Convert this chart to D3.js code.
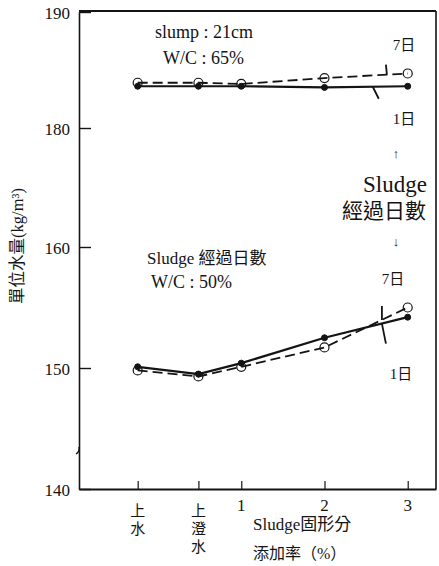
<!DOCTYPE html>
<html>
<head>
<meta charset="utf-8">
<script src="https://cdn.jsdelivr.net/npm/d3@7"></script>
<style>
  html, body { margin: 0; padding: 0; background: #fff; }
  svg { display: block; }
  text { fill: #141414; font-family: "Liberation Serif", "Noto Sans CJK TC", serif; }
</style>
</head>
<body>
<svg id="chart" width="439" height="566"></svg>
<script>
// Sludge solids addition rate (x) vs unit water content (kg/m3)
const categories = ["上水", "上澄水", "1", "2", "3"];
const xValues = [-0.245, 0.485, 1, 2, 3];          // position of each category on the rate axis

// W/C 65%, slump 21cm
const highDay7 = [183.9, 183.9, 183.8, 184.3, 184.7];
const highDay1 = [183.6, 183.6, 183.6, 183.5, 183.6];
// W/C 50%
const lowDay7 = [149.8, 149.3, 150.1, 151.7, 155.0];
const lowDay1 = [150.1, 149.5, 150.4, 152.5, 154.2];

const yTickLabels = [140, 150, 160, 180, 190];

const svg = d3.select("#chart");
const ink = "#141414";

const x = d3.scaleLinear().domain([-0.95, 3.34]).range([79, 436]);
// broken value axis: the spacing changes above 160
const y = d3.scaleLinear().domain([140, 150, 160, 180, 190]).range([489, 368, 247, 128, 12]);

// frame
svg.append("line").attr("x1", 79).attr("x2", 436).attr("y1", 11).attr("y2", 11)
  .attr("stroke", ink).attr("stroke-width", 2);
svg.append("line").attr("x1", 436).attr("x2", 436).attr("y1", 11).attr("y2", 489)
  .attr("stroke", ink).attr("stroke-width", 1.6);

// left axis
const yAxis = d3.axisLeft(y).tickValues(yTickLabels).tickSizeInner(-12).tickSizeOuter(0).tickPadding(9);
const gy = svg.append("g").attr("transform", "translate(79,0)").call(yAxis);
gy.select(".domain").attr("stroke", ink).attr("stroke-width", 1.6);
gy.selectAll(".tick line").attr("stroke", ink).attr("stroke-width", 1.4);
gy.selectAll(".tick text").attr("font-size", 17).attr("fill", ink)
  .attr("font-family", "Liberation Serif").attr("dy", "0.4em");

// small break mark on the value axis
svg.append("path")
  .attr("d", `M76,${y(142.9)} q4,-2 3,-7`)
  .attr("fill", "none").attr("stroke", ink).attr("stroke-width", 1.5);

// bottom axis
const xAxis = d3.axisBottom(x).tickValues(xValues).tickSizeInner(-8).tickSizeOuter(0).tickFormat("");
const gx = svg.append("g").attr("transform", "translate(0,489)").call(xAxis);
gx.select(".domain").attr("stroke", ink).attr("stroke-width", 2.2);
gx.selectAll(".tick line").attr("stroke", ink).attr("stroke-width", 1.2);

// category labels: words stacked one character per line
categories.forEach((c, i) => {
  const isNum = /^[0-9]+$/.test(c);
  const t = svg.append("text")
    .attr("x", x(xValues[i]))
    .attr("y", isNum ? 511 : 516)
    .attr("text-anchor", "middle")
    .attr("font-size", isNum ? 17 : 15);
  if (isNum) {
    t.text(c).attr("font-family", "Liberation Serif");
  } else {
    Array.from(c).forEach((ch, k) => {
      t.append("tspan").attr("x", x(xValues[i])).attr("dy", k === 0 ? 0 : 18).text(ch);
    });
  }
});

svg.append("text").attr("x", 253).attr("y", 530).attr("font-size", 17).text("Sludge固形分");
svg.append("text").attr("x", 253).attr("y", 559).attr("font-size", 16).text("添加率（%）");

// value axis title
svg.append("text")
  .attr("transform", "translate(23,246) rotate(-90)")
  .attr("text-anchor", "middle")
  .attr("font-size", 16.5)
  .text("單位水量(kg/m³)");

// series
const line = d3.line().x((d, i) => x(xValues[i])).y(d => y(d));

function drawSeries(values, dashed) {
  svg.append("path")
    .datum(values)
    .attr("d", line)
    .attr("fill", "none")
    .attr("stroke", ink)
    .attr("stroke-width", dashed ? 1.8 : 2.2)
    .attr("stroke-dasharray", dashed ? "10,5" : null);
}
function drawMarkers(values, open) {
  svg.append("g").selectAll("circle")
    .data(values)
    .join("circle")
    .attr("cx", (d, i) => x(xValues[i]))
    .attr("cy", d => y(d))
    .attr("r", open ? 4.5 : 3)
    .attr("fill", open ? "#fff" : ink)
    .attr("fill-opacity", open ? 0 : 1)
    .attr("stroke", ink)
    .attr("stroke-width", open ? 1.2 : 1);
}

drawSeries(highDay7, true);
drawSeries(highDay1, false);
drawSeries(lowDay7, true);
drawSeries(lowDay1, false);
drawMarkers(highDay7, true);
drawMarkers(highDay1, false);
drawMarkers(lowDay7, true);
drawMarkers(lowDay1, false);

// pointer from a day label to its curve, between the last two points
function valueAt(values, xv) {
  const a = values[3], b = values[4];
  return a + (b - a) * (xv - xValues[3]) / (xValues[4] - xValues[3]);
}
function pointer(values, xv, len, dx) {
  const px = x(xv), py = y(valueAt(values, xv));
  svg.append("line")
    .attr("x1", px).attr("y1", py)
    .attr("x2", px + dx).attr("y2", py + len)
    .attr("stroke", ink).attr("stroke-width", 1.8);
}
pointer(highDay7, 2.75, -10, -1);
pointer(highDay1, 2.58, 12, 6);
pointer(lowDay7, 2.69, -14, 0);
pointer(lowDay1, 2.69, 20, 4);

// annotation text
function label(txt, xp, yp, size, anchor) {
  svg.append("text").attr("x", xp).attr("y", yp)
    .attr("font-size", size).attr("text-anchor", anchor || "start").text(txt);
}
label("slump : 21cm", 155, 38, 18);
label("W/C : 65%", 163, 64, 18);
label("7日", 404, 50, 15, "middle");
label("1日", 404, 124, 15, "middle");

label("Sludge 經過日數", 147, 264, 17);
label("W/C : 50%", 151, 288, 18);
label("7日", 393, 284, 15, "middle");
label("1日", 401, 379, 15, "middle");

// legend note: days since the sludge was produced
label("Sludge", 395, 192, 23, "middle");
label("經過日數", 384, 218, 21, "middle");
svg.append("text").attr("x", 396).attr("y", 158).attr("font-size", 13).attr("text-anchor", "middle").text("↑");
svg.append("text").attr("x", 396).attr("y", 246).attr("font-size", 13).attr("text-anchor", "middle").text("↓");
</script>
</body>
</html>
